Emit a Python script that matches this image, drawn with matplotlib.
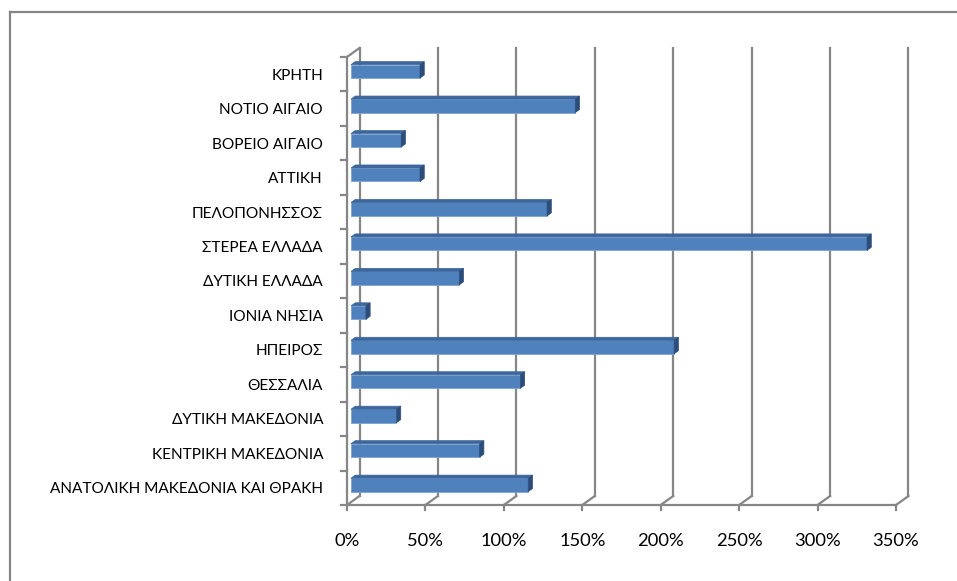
import numpy as np
import matplotlib.pyplot as plt
from matplotlib.patches import Polygon

# regions listed bottom to top, as they appear on the category axis
regions = [
    "ΑΝΑΤΟΛΙΚΗ ΜΑΚΕΔΟΝΙΑ ΚΑΙ ΘΡΑΚΗ",
    "ΚΕΝΤΡΙΚΗ ΜΑΚΕΔΟΝΙΑ",
    "ΔΥΤΙΚΗ ΜΑΚΕΔΟΝΙΑ",
    "ΘΕΣΣΑΛΙΑ",
    "ΗΠΕΙΡΟΣ",
    "ΙΟΝΙΑ ΝΗΣΙΑ",
    "ΔΥΤΙΚΗ ΕΛΛΑΔΑ",
    "ΣΤΕΡΕΑ ΕΛΛΑΔΑ",
    "ΠΕΛΟΠΟΝΗΣΣΟΣ",
    "ΑΤΤΙΚΗ",
    "ΒΟΡΕΙΟ ΑΙΓΑΙΟ",
    "ΝΟΤΙΟ ΑΙΓΑΙΟ",
    "ΚΡΗΤΗ",
]
values = [113, 82, 29, 108, 206, 9.5, 69, 329, 125, 44, 32, 143, 44]
xticks = [0, 50, 100, 150, 200, 250, 300, 350]
xticklabels = ["0%", "50%", "100%", "150%", "200%", "250%", "300%", "350%"]

plt.rcParams['font.family'] = ['Lato', 'DejaVu Sans']

W, H = 957, 581
fig = plt.figure(figsize=(W / 100, H / 100), dpi=100)
fig.patch.set_facecolor('white')

# outer chart border (only left and top visible in the crop)
fig.add_artist(plt.Line2D([9.5 / W, 9.5 / W], [0, 1 - 11.5 / H],
                          color='#868686', lw=1.6, transform=fig.transFigure))
fig.add_artist(plt.Line2D([9.5 / W, 1], [1 - 11.5 / H, 1 - 11.5 / H],
                          color='#868686', lw=1.6, transform=fig.transFigure))

# front plane of the 3d box in pixels
x0, x1, y0, y1 = 347, 896, 505, 57
ax = fig.add_axes([x0 / W, 1 - y0 / H, (x1 - x0) / W, (y0 - y1) / H])
n = len(regions)
xmax = xticks[-1]
ax.set_xlim(0, xmax)
ax.set_ylim(-0.5, n - 0.5)
ax.axis('off')

px = (x1 - x0) / xmax      # pixels per percent
py = (y0 - y1) / n         # pixels per category
DX, DY = 12.5, 9.0         # depth vector in pixels


def depth(f):
    return DX * f / px, DY * f / py


grid = '#868686'
lw = 1.6
bx, by = depth(1)
ybot, ytop = -0.5, n - 0.5

# back wall gridlines and floor connectors
for t, lab in zip(xticks, xticklabels):
    ax.plot([t + bx, t + bx], [ybot + by, ytop + by], color=grid, lw=lw,
            clip_on=False, zorder=1)
    ax.plot([t, t + bx], [ybot, ybot + by], color=grid, lw=lw,
            clip_on=False, zorder=1)
    ax.plot([t, t], [ybot, ybot - 5 / py], color=grid, lw=lw,
            clip_on=False, zorder=1)
    ax.text(t, ybot - 36 / py, lab, ha='center', va='center',
            fontsize=13.2, color='black')

# front floor line
ax.plot([0, xmax], [ybot, ybot], color=grid, lw=lw, clip_on=False, zorder=1)

# category axis with ticks
ax.plot([0, 0], [ybot, ytop], color=grid, lw=lw, clip_on=False, zorder=1)
ax.plot([0, bx], [ytop, ytop + by], color=grid, lw=lw, clip_on=False, zorder=1)
for k in range(n + 1):
    yy = k - 0.5
    ax.plot([0, -6 / px], [yy, yy], color=grid, lw=lw, clip_on=False, zorder=1)

for i, lab in enumerate(regions):
    ax.text(-24 / px, i - 1.5 / py, lab, ha='right', va='center',
            fontsize=11.1, color='black')

# 3d bars
h = 0.39
fx, fy = depth(0.32)
kx, ky = depth(0.66)
ypos = np.arange(n)
ax.barh(ypos + fy, values, left=fx, height=h, color='#4f81bd',
        edgecolor='#7ea3d3', linewidth=0.6, zorder=3)
for y, v in zip(ypos, values):
    top = [(fx, y + h / 2 + fy), (v + fx, y + h / 2 + fy),
           (v + kx, y + h / 2 + ky), (kx, y + h / 2 + ky)]
    side = [(v + fx, y - h / 2 + fy), (v + kx, y - h / 2 + ky),
            (v + kx, y + h / 2 + ky), (v + fx, y + h / 2 + fy)]
    ax.add_patch(Polygon(top, closed=True, facecolor='#3d679c',
                         edgecolor='#3d679c', lw=0.5, zorder=3))
    ax.add_patch(Polygon(side, closed=True, facecolor='#2c4d7a',
                         edgecolor='#2c4d7a', lw=0.5, zorder=3))

plt.savefig('out.png', dpi=100, facecolor='white')
plt.close()
